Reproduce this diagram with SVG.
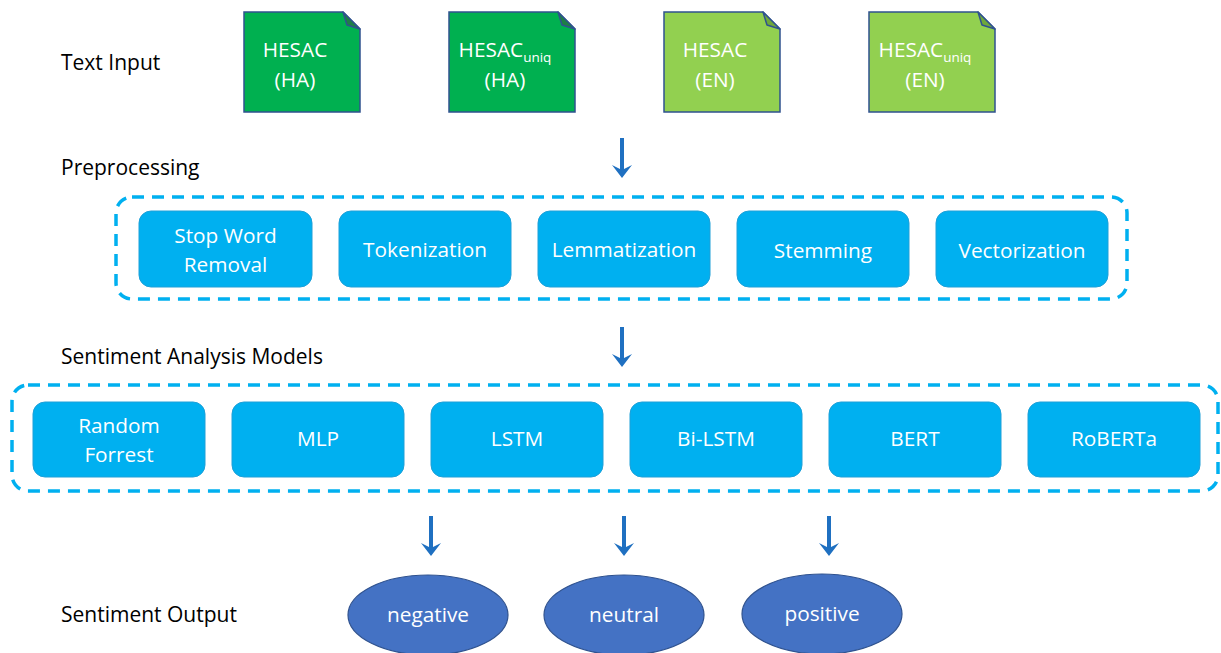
<svg xmlns="http://www.w3.org/2000/svg" width="1221" height="653" viewBox="0 0 1221 653">
<defs>
<style>
text{font-family:"Open Sans","Liberation Sans",sans-serif;}
.lbl{font-size:21px;fill:#000;}
.wt{font-size:20.8px;fill:#fff;text-anchor:middle;}
.sub{font-size:13.5px;}
.doc{stroke:#2F528F;stroke-width:1.5;}
.dk{fill:#00B050;}
.lt{fill:#92D050;}
.fold{stroke:#2F528F;stroke-width:1.5;stroke-linejoin:round;}
.box{fill:#00B0F0;stroke:#1EA0D8;stroke-width:1;}
.dash{fill:none;stroke:#00B0F0;stroke-width:3.5;stroke-dasharray:12 8;}
.arr{stroke:#1F70C1;stroke-width:4;fill:none;}
.ah{fill:#1F70C1;}
.ell{fill:#4472C4;stroke:#2F528F;stroke-width:1.2;}
</style>
</defs>
<rect width="1221" height="653" fill="#fff"/>

<g id="labels">
<text class="lbl" x="61" y="70">Text Input</text>
<text class="lbl" x="61" y="175">Preprocessing</text>
<text class="lbl" x="61" y="364">Sentiment Analysis Models</text>
<text class="lbl" x="61" y="622">Sentiment Output</text>
</g>

<g id="doc1">
<path class="doc dk" d="M244 12 H343 L360 29 V112 H244 Z"/>
<path class="fold" fill="#1E7F45" d="M343 12 L347 25 L360 29 Z"/>
<text class="wt" x="295" y="57">HESAC</text>
<text class="wt" x="295" y="87">(HA)</text>
</g>
<g id="doc2">
<path class="doc dk" d="M449 12 H558 L575 29 V112 H449 Z"/>
<path class="fold" fill="#1E7F45" d="M558 12 L562 25 L575 29 Z"/>
<text class="wt" x="505" y="57">HESAC<tspan class="sub" dy="5">uniq</tspan></text>
<text class="wt" x="505" y="87">(HA)</text>
</g>
<g id="doc3">
<path class="doc lt" d="M664 12 H763 L780 29 V112 H664 Z"/>
<path class="fold" fill="#6FA83A" d="M763 12 L767 25 L780 29 Z"/>
<text class="wt" x="715" y="57">HESAC</text>
<text class="wt" x="715" y="87">(EN)</text>
</g>
<g id="doc4">
<path class="doc lt" d="M869 12 H978 L995 29 V112 H869 Z"/>
<path class="fold" fill="#6FA83A" d="M978 12 L982 25 L995 29 Z"/>
<text class="wt" x="925" y="57">HESAC<tspan class="sub" dy="5">uniq</tspan></text>
<text class="wt" x="925" y="87">(EN)</text>
</g>

<g id="preprocessing">
<rect class="dash" x="116" y="197" width="1011" height="102" rx="16"/>
<g id="stopword"><rect class="box" x="139" y="211" width="173" height="76" rx="12"/><text class="wt" x="225.5" y="243">Stop Word</text><text class="wt" x="225.5" y="272">Removal</text></g>
<g id="tokenization"><rect class="box" x="339" y="211" width="172" height="76" rx="12"/><text class="wt" x="425" y="257">Tokenization</text></g>
<g id="lemmatization"><rect class="box" x="538" y="211" width="172" height="76" rx="12"/><text class="wt" x="624" y="257">Lemmatization</text></g>
<g id="stemming"><rect class="box" x="737" y="211" width="172" height="76" rx="12"/><text class="wt" x="823" y="258">Stemming</text></g>
<g id="vectorization"><rect class="box" x="936" y="211" width="172" height="76" rx="12"/><text class="wt" x="1022" y="258">Vectorization</text></g>
</g>

<g id="models">
<rect class="dash" x="12" y="385" width="1206" height="106" rx="16"/>
<g id="rf"><rect class="box" x="33" y="402" width="172" height="75" rx="12"/><text class="wt" x="119" y="433">Random</text><text class="wt" x="119" y="462">Forrest</text></g>
<g id="mlp"><rect class="box" x="232" y="402" width="172" height="75" rx="12"/><text class="wt" x="318" y="446">MLP</text></g>
<g id="lstm"><rect class="box" x="431" y="402" width="172" height="75" rx="12"/><text class="wt" x="517" y="446">LSTM</text></g>
<g id="bilstm"><rect class="box" x="630" y="402" width="172" height="75" rx="12"/><text class="wt" x="716" y="446">Bi-LSTM</text></g>
<g id="bert"><rect class="box" x="829" y="402" width="172" height="75" rx="12"/><text class="wt" x="915" y="446">BERT</text></g>
<g id="roberta"><rect class="box" x="1028" y="402" width="172" height="75" rx="12"/><text class="wt" x="1114" y="446">RoBERTa</text></g>
</g>

<g id="outputs">
<g id="negative"><ellipse class="ell" cx="428" cy="615" rx="80" ry="40"/><text class="wt" x="428" y="622">negative</text></g>
<g id="neutral"><ellipse class="ell" cx="624" cy="615" rx="80" ry="40"/><text class="wt" x="624" y="622">neutral</text></g>
<g id="positive"><ellipse class="ell" cx="822" cy="614" rx="80" ry="40"/><text class="wt" x="822" y="621">positive</text></g>
</g>

<g id="connectors">
<path class="arr" d="M622 138 V172"/><path class="ah" d="M612 165 L622 178 L632 165 L622 170 Z"/>
<path class="arr" d="M622 327 V361"/><path class="ah" d="M612 354 L622 367 L632 354 L622 359 Z"/>
<path class="arr" d="M431 516 V550"/><path class="ah" d="M421 543 L431 556 L441 543 L431 548 Z"/>
<path class="arr" d="M624 516 V550"/><path class="ah" d="M614 543 L624 556 L634 543 L624 548 Z"/>
<path class="arr" d="M829 516 V550"/><path class="ah" d="M819 543 L829 556 L839 543 L829 548 Z"/>
</g>
</svg>
